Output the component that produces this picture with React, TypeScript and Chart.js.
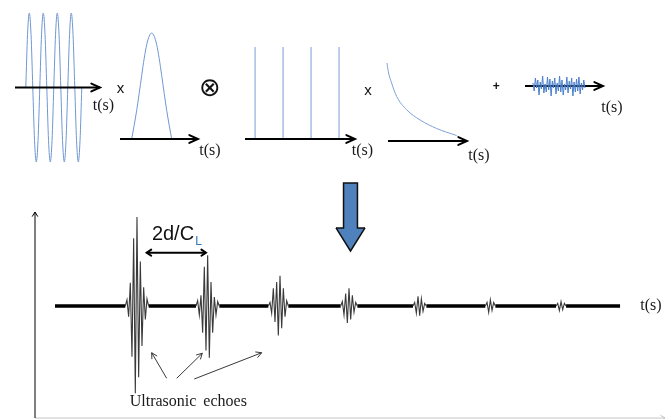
import React, { useEffect, useRef } from 'react';
import { Chart, registerables } from 'chart.js';

Chart.register(...registerables);

// ---------------- data ----------------
// carrier: time in cycles, normalized amplitude
const sineT = [0, 0.125, 0.25, 0.375, 0.5, 0.625, 0.75, 0.875, 1, 1.125, 1.25, 1.375, 1.5, 1.625, 1.75, 1.875, 2, 2.125, 2.25, 2.375, 2.5, 2.625, 2.75, 2.875, 3, 3.125, 3.25, 3.375, 3.5, 3.625, 3.75, 3.875, 4];
const sineV = [0, 0.71, 1, 0.71, 0, -0.71, -1, -0.71, 0, 0.71, 1, 0.71, 0, -0.71, -1, -0.71, 0, 0.71, 1, 0.71, 0, -0.71, -1, -0.71, 0, 0.71, 1, 0.71, 0, -0.71, -1, -0.71, 0];
const sineAxis = [-0.77, 5.3];

// gaussian window
const gaussT = [-4, -3.5, -3, -2.5, -2, -1.5, -1, -0.5, 0, 0.5, 1, 1.5, 2, 2.5, 3, 3.5, 4];
const gaussV = [0, 0.13, 0.27, 0.43, 0.6, 0.76, 0.89, 0.97, 1, 0.97, 0.89, 0.76, 0.6, 0.43, 0.27, 0.13, 0];
const gaussAxis = [-6.34, 9.26];

// Dirac comb
const combT = [0, 1, 2, 3];
const combV = [1, 1, 1, 1];
const combAxis = [-0.36, 3.57];

// attenuation
const decayT = [0, 0.13, 0.47, 0.97, 1.97, 3.3, 4.97, 6.97];
const decayV = [1, 0.89, 0.74, 0.57, 0.4, 0.27, 0.16, 0.07];
const decayAxis = [0.1, 8.0];

// additive noise (samples)
const noiseV = [0.3, -0.5, 0.8, -0.2, 0.6, -0.9, 0.4, -0.3, 1.0, -0.7, 0.2, -0.6, 0.9, -0.4, 0.7, -1.0, 0.5, -0.2, 0.8, -0.8, 0.3, -0.5, 1.0, -0.6, 0.6, -0.9, 0.2, -0.4, 0.9, -0.7, 0.5, -0.3, 0.8, -1.0, 0.4, -0.6, 0.7, -0.5, 0.9, -0.8, 0.3, -0.4, 0.6, -0.2];
const noiseAxis = [-6.6, 57.9];

// big down arrow outline (normalized)
const arrowTopX = [-1, -0.48, -0.48, 0.48, 0.48, 1];
const arrowTopY = [0.34, 0.34, 1, 1, 0.34, 0.34];
const arrowBotX = [-1, 0, 1];
const arrowBotY = [0.34, 0, 0.34];

// received signal: time in units of 2d/C_L, amplitude normalized to first echo
const echoT = [0, 1, 2, 3, 4, 5, 6];
const echoStep = 0.0236; // time between successive half-cycle peaks
const echoPeaks = [
  [0.07, -0.12, 0.26, -0.57, 0.76, -0.98, 1.0, -0.8, 0.5, -0.45, 0.21, -0.15, 0.08],
  [0.06, -0.1, 0.12, -0.3, 0.44, -0.5, 0.57, -0.58, 0.27, -0.3, 0.1, -0.1, 0.05],
  [0.04, -0.08, 0.2, -0.18, 0.27, -0.33, 0.34, -0.25, 0.2, -0.12, 0.06],
  [0.05, -0.1, 0.14, -0.19, 0.2, -0.15, 0.12, -0.07, 0.04],
  [0.04, -0.08, 0.11, -0.11, 0.08, -0.06, 0.03],
  [0.04, -0.07, 0.07, -0.05, 0.04],
  [0.03, -0.05, 0.05, -0.04, 0.03],
];
const baseRange = [-1.16, 6.835];
const timeAxis = [-1.443, 7.471];
const ampAxis = [-1.258, 1.056];
const spanT = [0.137, 0.976];
const spanV = 0.599;
const pointerFromT = [0.42, 0.562, 0.81];
const pointerFromV = [-0.812, -0.812, -0.82];
const pointerToT = [0.208, 0.924, 1.764];
const pointerToV = [-0.525, -0.531, -0.525];

// ---------------- helpers ----------------
const arrowHeads = {
  id: 'arrowHeads',
  afterDatasetsDraw(chart: any) {
    const ctx = chart.ctx;
    chart.data.datasets.forEach((ds: any, i: number) => {
      const head = ds.arrowHead;
      if (!head) return;
      const pts = chart.getDatasetMeta(i).data;
      const n = pts.length;
      const draw = (tip: any, from: any) => {
        const ang = Math.atan2(tip.y - from.y, tip.x - from.x);
        ctx.save();
        ctx.strokeStyle = ds.borderColor;
        ctx.lineWidth = head.width;
        ctx.lineCap = 'round';
        ctx.lineJoin = 'miter';
        ctx.beginPath();
        ctx.moveTo(tip.x - head.len * Math.cos(ang - head.spread), tip.y - head.len * Math.sin(ang - head.spread));
        ctx.lineTo(tip.x, tip.y);
        ctx.lineTo(tip.x - head.len * Math.cos(ang + head.spread), tip.y - head.len * Math.sin(ang + head.spread));
        ctx.stroke();
        ctx.restore();
      };
      if (head.end) draw(pts[n - 1], pts[n - 2]);
      if (head.start) draw(pts[0], pts[1]);
    });
  },
};

const series = (xs: number[], ys: (number | null)[], color: string, width: number, extra: any = {}) => ({
  data: xs.map((x, i) => ({ x, y: ys[i] })),
  showLine: true,
  borderColor: color,
  borderWidth: width,
  pointRadius: 0,
  pointHoverRadius: 0,
  clip: false,
  fill: false,
  tension: 0,
  ...extra,
});

const topAxis = (range: number[]) =>
  series(range, [0, 0], '#000', 2, { arrowHead: { end: true, len: 9.5, spread: 0.43, width: 2 } });

type Area = { x: number; y: number; w: number; h: number };

function Panel({ area, xr, yr, datasets, pad = 10 }: { area: Area; xr: number[]; yr: number[]; datasets: any[]; pad?: number }) {
  const ref = useRef<HTMLCanvasElement>(null);
  useEffect(() => {
    const chart = new Chart(ref.current as HTMLCanvasElement, {
      type: 'scatter',
      data: { datasets },
      options: {
        responsive: false,
        animation: false,
        events: [],
        devicePixelRatio: 1,
        layout: { padding: pad },
        plugins: { legend: { display: false }, tooltip: { enabled: false } },
        scales: {
          x: { type: 'linear', display: false, min: xr[0], max: xr[1] },
          y: { type: 'linear', display: false, min: yr[0], max: yr[1] },
        },
      } as any,
      plugins: [arrowHeads as any],
    });
    return () => chart.destroy();
  }, []);
  const W = area.w + 2 * pad;
  const H = area.h + 2 * pad;
  return (
    <canvas
      ref={ref}
      width={W}
      height={H}
      style={{ position: 'absolute', left: area.x - pad, top: area.y - pad, width: W, height: H }}
    />
  );
}

function Label({ x, y, text, font, color = '#1a1a1a', style = {} }: any) {
  return (
    <div
      style={{
        position: 'absolute',
        left: x,
        top: y,
        transform: 'translate(-50%, -50%)',
        font,
        color,
        lineHeight: 1,
        whiteSpace: 'nowrap',
        ...style,
      }}
    >
      {text}
    </div>
  );
}

// ---------------- datasets ----------------
const BLUE = '#6f97d1';

const sineSets = [
  topAxis(sineAxis),
  series(sineT, sineV, BLUE, 1, { cubicInterpolationMode: 'monotone' }),
];

const gaussSets = [
  topAxis(gaussAxis),
  series(gaussT, gaussV, BLUE, 1, { cubicInterpolationMode: 'monotone' }),
];

const combSets = [
  topAxis(combAxis),
  ...combT.map((t, i) => series([t, t], [0, combV[i]], '#8fadda', 1.2)),
];

const decaySets = [
  topAxis(decayAxis),
  series(decayT, decayV, '#7ea2d6', 1, { cubicInterpolationMode: 'monotone' }),
];

const noiseSets = [
  series(noiseV.map((_, i) => i), noiseV, '#4a7fcc', 1),
  topAxis(noiseAxis),
];

const arrowSets = [
  series(arrowBotX, arrowBotY, '#111', 1.5),
  series(arrowTopX, arrowTopY, '#111', 1.5, { fill: '-1', backgroundColor: '#4f81bd' }),
];

// received signal
const echoSets = echoPeaks.map((peaks, k) => {
  const half = (peaks.length - 1) / 2;
  const xs = [echoT[k] - (half + 1) * echoStep, ...peaks.map((_, i) => echoT[k] + (i - half) * echoStep), echoT[k] + (half + 1) * echoStep];
  const ys = [0, ...peaks, 0];
  return series(xs, ys, '#3a3a3a', 1.1);
});

const baseX: number[] = [baseRange[0]];
const baseY: (number | null)[] = [0];
echoPeaks.forEach((peaks, k) => {
  const half = (peaks.length - 1) / 2;
  baseX.push(echoT[k] - (half + 1) * echoStep, echoT[k], echoT[k] + (half + 1) * echoStep);
  baseY.push(0, null, 0);
});
baseX.push(baseRange[1]);
baseY.push(0);

const bottomSets = [
  ...pointerFromT.map((t, i) =>
    series([t, pointerToT[i]], [pointerFromV[i], pointerToV[i]], '#222', 0.9, {
      arrowHead: { end: true, len: 6, spread: 0.5, width: 0.9 },
    })
  ),
  series(spanT, [spanV, spanV], '#000', 2, { arrowHead: { end: true, start: true, len: 5.5, spread: 0.6, width: 2 } }),
  ...echoSets,
  series(baseX, baseY, '#000', 3.6),
  series([timeAxis[0], timeAxis[0]], [ampAxis[0], ampAxis[1]], '#000', 1, {
    arrowHead: { end: true, len: 5, spread: 0.55, width: 1 },
  }),
  series(timeAxis, [ampAxis[0], ampAxis[0]], '#c4c4c4', 1, {
    arrowHead: { end: true, len: 5, spread: 0.55, width: 1 },
  }),
];

const SERIF = '16px "Liberation Serif", "Times New Roman", serif';
const SANS = '"Liberation Sans", Arial, sans-serif';

export default function App() {
  return (
    <div
      style={{
        position: 'fixed',
        left: 0,
        top: 0,
        width: 669,
        height: 419,
        overflow: 'hidden',
        background: '#fff',
      }}
    >
      <Panel area={{ x: 15, y: 13, w: 85, h: 149 }} xr={sineAxis} yr={[-1, 1]} datasets={sineSets} />
      <Panel area={{ x: 120, y: 33, w: 78, h: 106 }} xr={gaussAxis} yr={[0, 1]} datasets={gaussSets} />
      <Panel area={{ x: 245, y: 47, w: 110, h: 92 }} xr={combAxis} yr={[0, 1]} datasets={combSets} />
      <Panel area={{ x: 387, y: 63, w: 80, h: 78 }} xr={[0, 8]} yr={[0, 1]} datasets={decaySets} />
      <Panel area={{ x: 525, y: 76, w: 78, h: 20 }} xr={noiseAxis} yr={[-1, 1]} datasets={noiseSets} />
      <Panel area={{ x: 336, y: 183, w: 29, h: 68 }} xr={[-1, 1]} yr={[0, 1]} datasets={arrowSets} />
      <Panel area={{ x: 35, y: 212, w: 630, h: 206 }} xr={timeAxis} yr={ampAxis} datasets={bottomSets} />

      <Label x={120.5} y={86.5} text="x" font={`15px ${SANS}`} color="#111" />
      <Label x={103.5} y={105} text="t(s)" font={SERIF} />
      <Label x={210} y={86.5} text="⊗" font={'26px "DejaVu Sans", sans-serif'} color="#111" />
      <Label x={210} y={150} text="t(s)" font={SERIF} />
      <Label x={362.5} y={150} text="t(s)" font={SERIF} />
      <Label x={368} y={89.3} text="x" font={`15px ${SANS}`} color="#111" />
      <Label x={479} y={154.6} text="t(s)" font={SERIF} />
      <Label x={496.3} y={85.5} text="+" font={`bold 12px ${SANS}`} color="#111" />
      <Label x={612} y={107} text="t(s)" font={SERIF} />
      <Label x={651} y={305.3} text="t(s)" font={SERIF} />
      <Label x={173} y={232.7} text="2d/C" font={`20px ${SANS}`} color="#111" />
      <Label x={198.5} y={240.5} text="L" font={`12px ${SANS}`} color="#2e75b6" />
      <Label x={188.3} y={401.3} text="Ultrasonic echoes" font={SERIF} style={{ wordSpacing: '3px' }} />
    </div>
  );
}
